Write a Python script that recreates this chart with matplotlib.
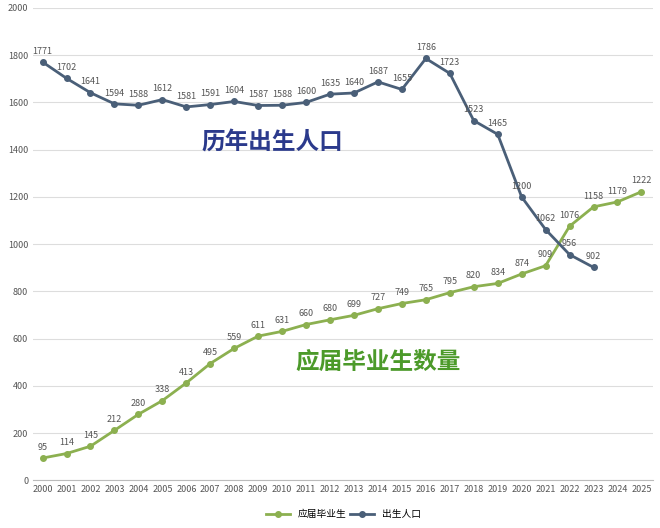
import matplotlib
matplotlib.use("Agg")
import matplotlib.pyplot as plt

plt.rcParams['font.family'] = ['Noto Sans CJK SC', 'DejaVu Sans']

years = list(range(2000, 2026))
birth_years = list(range(2000, 2024))
births = [1771,1702,1641,1594,1588,1612,1581,1591,1604,1587,1588,1600,1635,1640,1687,1655,1786,1723,1523,1465,1200,1062,956,902]
grads = [95,114,145,212,280,338,413,495,559,611,631,660,680,699,727,749,765,795,820,834,874,909,1076,1158,1179,1222]

green = '#8cb050'
blue = '#4a5f78'

fig = plt.figure(figsize=(6.6, 5.28), dpi=100)
ax = fig.add_axes([0.05, 0.09, 0.94, 0.895])
ax.plot(years, grads, color=green, lw=2, marker='o', ms=4, label='应届毕业生')
ax.plot(birth_years, births, color=blue, lw=2, marker='o', ms=4, label='出生人口')
for x, v in zip(years, grads):
    ax.annotate(str(v), (x, v), xytext=(0, 6), textcoords='offset points', ha='center', fontsize=6.5, color='#555555')
for x, v in zip(birth_years, births):
    ax.annotate(str(v), (x, v), xytext=(0, 6), textcoords='offset points', ha='center', fontsize=6.5, color='#555555')

ax.set_ylim(0, 2000)
ax.set_xlim(1999.6, 2025.5)
ax.set_yticks(range(0, 2001, 200))
ax.set_xticks(years)
ax.tick_params(labelsize=6.5, colors='#555555', length=0)
ax.grid(axis='y', color='#dddddd', lw=0.8)
ax.set_axisbelow(True)
for s in ['top', 'right', 'left']:
    ax.spines[s].set_visible(False)
ax.spines['bottom'].set_color('#bbbbbb')

ax.text(2009.6, 1430, '历年出生人口', fontsize=17, color='#2b3a8c', ha='center', va='center', fontweight='bold')
ax.text(2014.0, 500, '应届毕业生数量', fontsize=17, color='#4c9a2a', ha='center', va='center', fontweight='bold')

fig.legend(loc='lower center', ncol=2, frameon=False, fontsize=7, bbox_to_anchor=(0.52, 0.0), handlelength=2.5, columnspacing=0.3)
fig.savefig('out.png', dpi=100)
